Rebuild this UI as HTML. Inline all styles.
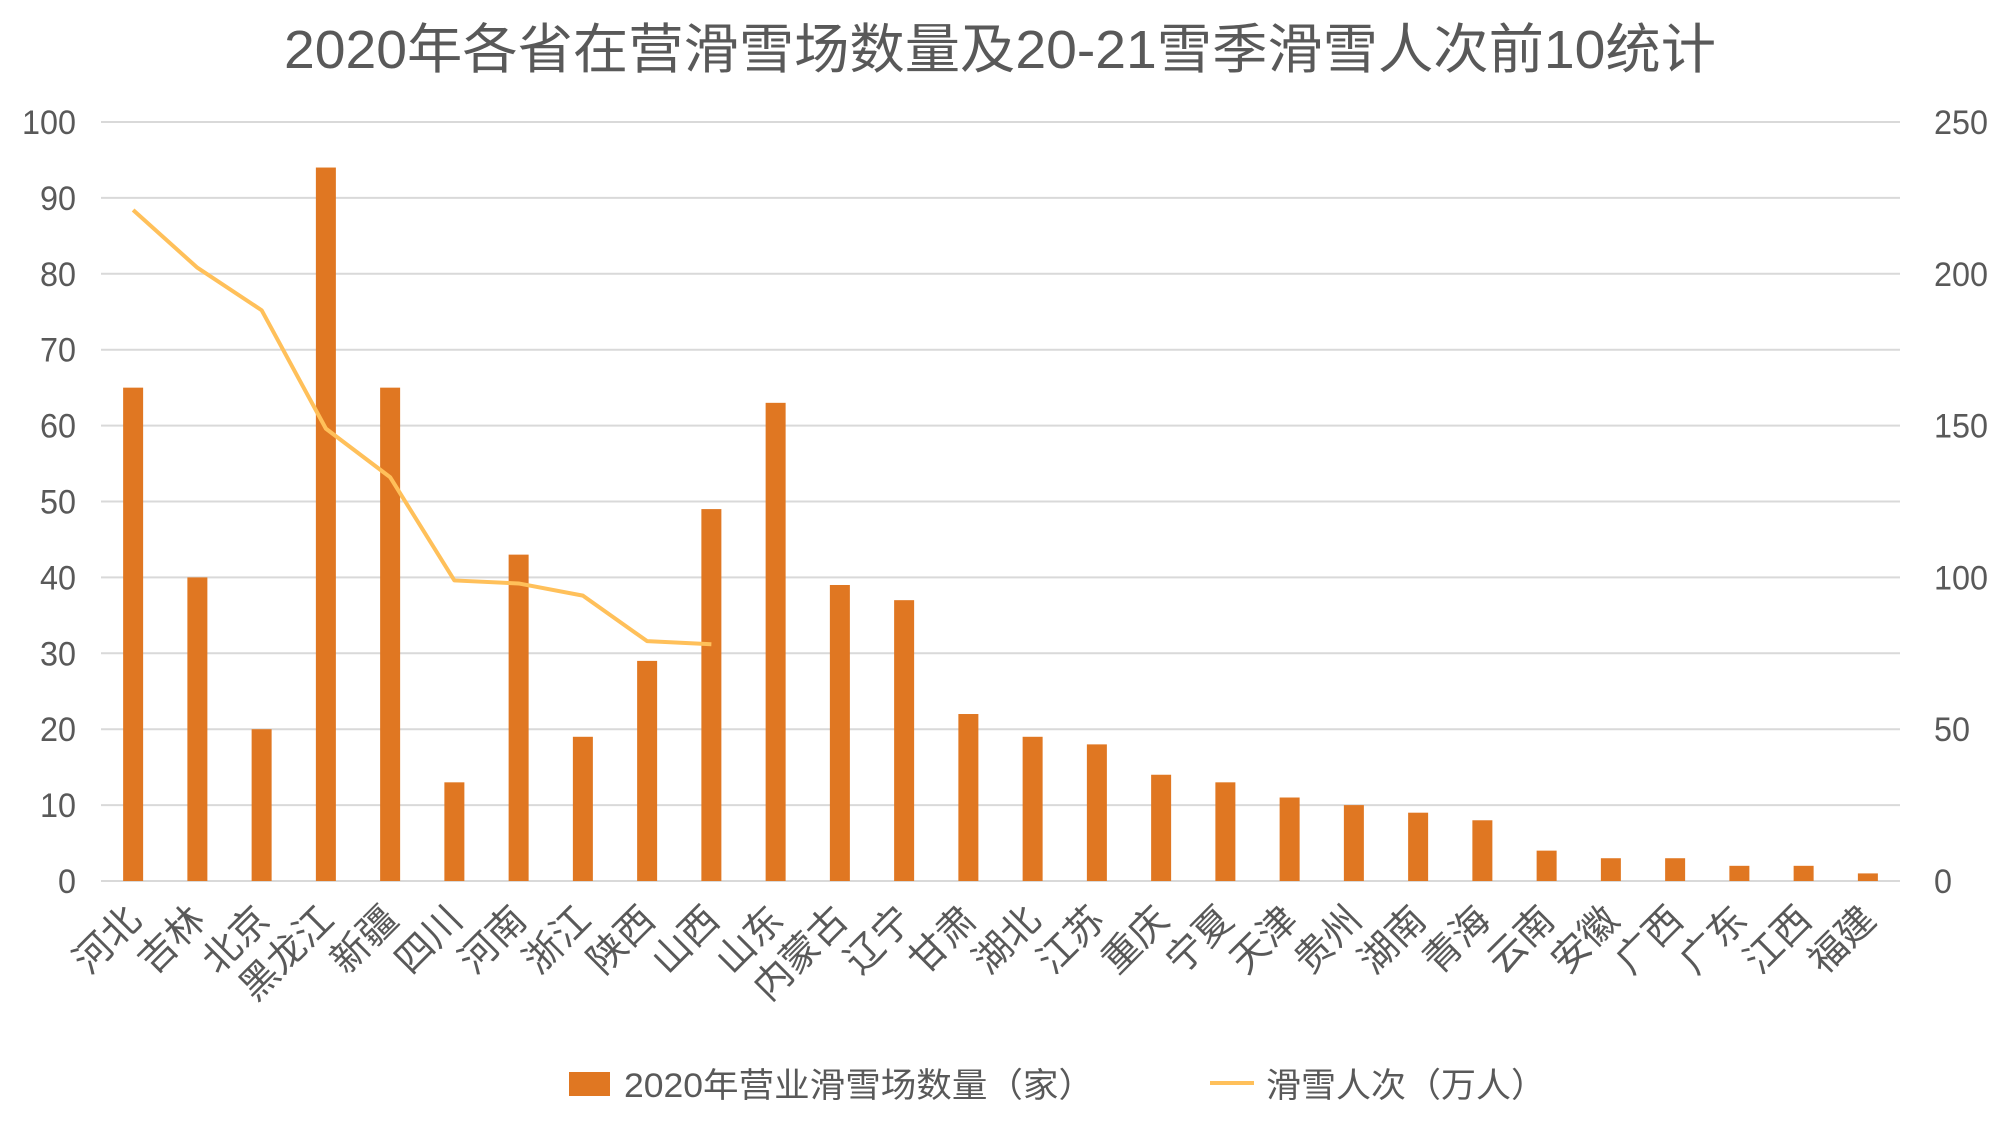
<!DOCTYPE html>
<html><head><meta charset="utf-8"><style>html,body{margin:0;padding:0;background:#fff}</style></head>
<body>
<svg width="2001" height="1126" xmlns="http://www.w3.org/2000/svg" font-family="'Liberation Sans','Noto Sans CJK SC',sans-serif" fill="#595959">
<rect width="2001" height="1126" fill="#fff"/>
<text x="284" y="68" font-size="54" textLength="1432" lengthAdjust="spacingAndGlyphs">2020年各省在营滑雪场数量及20-21雪季滑雪人次前10统计</text>
<g stroke="#d9d9d9" stroke-width="2" id="G"></g>
<g font-size="34" text-anchor="end" id="L"></g>
<g font-size="34" id="R"></g>
<g fill="#e07722" id="B"></g>
<polyline id="P" fill="none" stroke="#ffc05a" stroke-width="4" stroke-linejoin="round"/>
<g font-size="38" id="X"></g>
<rect x="569" y="1072" width="41" height="24" fill="#e07722"/>
<text x="624" y="1097" font-size="34" textLength="470" lengthAdjust="spacingAndGlyphs">2020年营业滑雪场数量（家）</text>
<line x1="1210" x2="1254" y1="1083" y2="1083" stroke="#ffc05a" stroke-width="4"/>
<text x="1266" y="1097" font-size="34" textLength="280" lengthAdjust="spacingAndGlyphs">滑雪人次（万人）</text>
<script>
var NS="http://www.w3.org/2000/svg";
function el(t,a,p,txt){var e=document.createElementNS(NS,t);for(var k in a)e.setAttribute(k,a[k]);if(txt!=null)e.textContent=txt;document.getElementById(p).appendChild(e);return e;}
var y0=881,st=7.59,X0=101,X1=1900;
for(var i=0;i<=10;i++){var v=i*10,s=String(v),yy=y0-v*st;
el('line',{x1:X0,x2:X1,y1:yy,y2:yy},'G');
el('text',{x:76,y:yy+12,textLength:s.length*18,lengthAdjust:'spacingAndGlyphs'},'L',s);
if(i%2==0){var r=String(v*2.5);el('text',{x:1934,y:yy+12,textLength:r.length*18,lengthAdjust:'spacingAndGlyphs'},'R',r);}}
var names=["河北","吉林","北京","黑龙江","新疆","四川","河南","浙江","陕西","山西","山东","内蒙古","辽宁","甘肃","湖北","江苏","重庆","宁夏","天津","贵州","湖南","青海","云南","安徽","广西","广东","江西","福建"];
var vals=[65,40,20,94,65,13,43,19,29,49,63,39,37,22,19,18,14,13,11,10,9,8,4,3,3,2,2,1];
var ppl=[221,202,188,149,133,99,98,94,79,78];
var cw=(X1-X0)/28,pts=[];
for(var i=0;i<28;i++){var cx=X0+cw*(i+0.5);
el('rect',{x:cx-10,y:y0-vals[i]*st,width:20,height:vals[i]*st},'B');
el('text',{x:0,y:0,'text-anchor':'end',transform:'translate('+(cx+10)+',922) rotate(-45)'},'X',names[i]);
if(i<10)pts.push(cx+','+(y0-ppl[i]*st*0.4));}
document.getElementById('P').setAttribute('points',pts.join(' '));
</script>
</svg>
</body></html>
